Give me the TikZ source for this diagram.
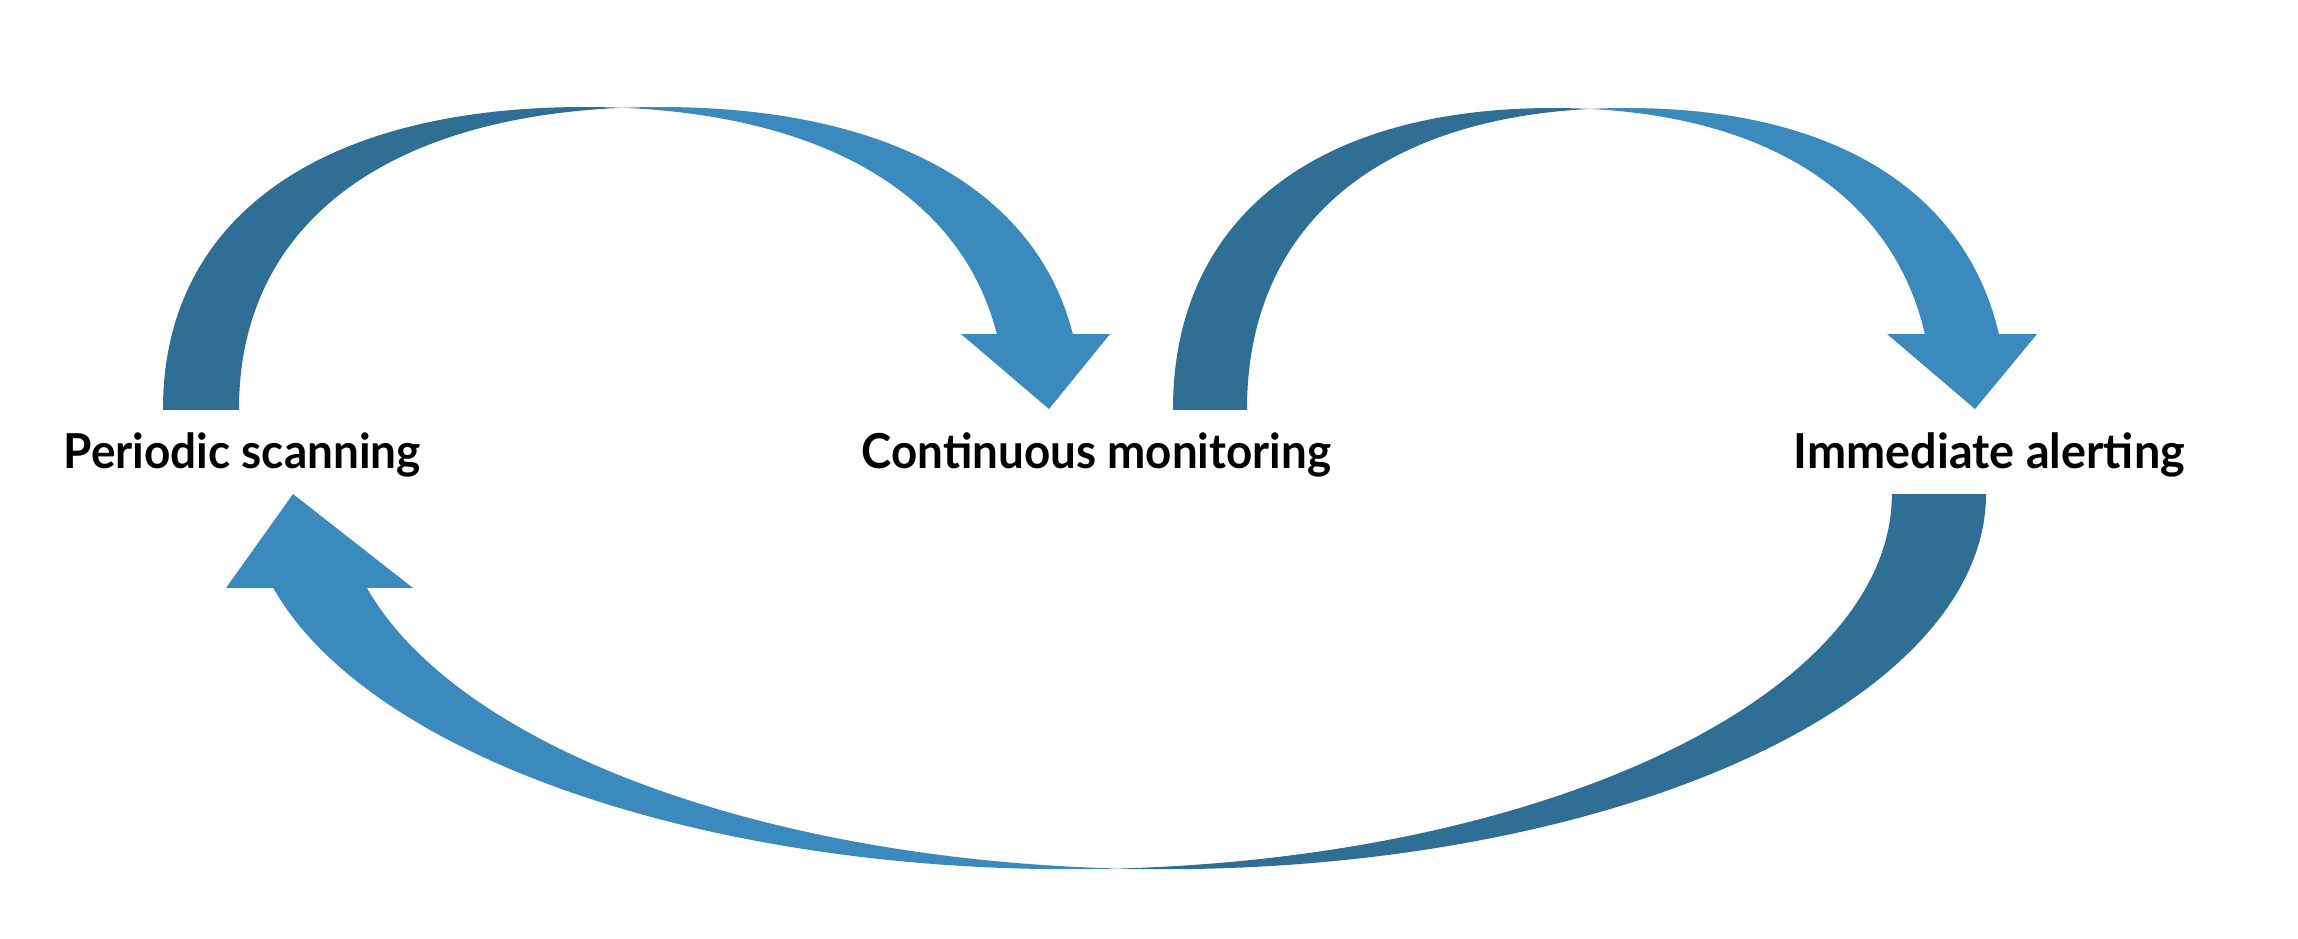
\documentclass[tikz,border=0pt]{standalone}
\usepackage{fontspec}
\setmainfont{Lato}
\usepackage{graphicx}
\definecolor{arrowdark}{RGB}{47,111,150}
\definecolor{arrowlight}{RGB}{59,138,189}
\definecolor{bgwarm}{RGB}{253,251,249}
\definecolor{bgwarmb}{RGB}{250,247,244}
\pgfdeclareradialshading{bgshade}{\pgfpoint{0bp}{0bp}}{color(0bp)=(white); color(44bp)=(white); color(58bp)=(bgwarm); color(71bp)=(bgwarmb)}
\newcommand{\lbl}[2]{\resizebox{#1}{\height}{#2}}
\tikzset{
  label text/.style={inner sep=0pt, anchor=base west, font=\fontsize{13.7pt}{16pt}\selectfont\bfseries, text=black},
  back band/.style={fill=arrowdark, draw=none, even odd rule},
  front band/.style={fill=arrowlight, draw=none, even odd rule},
  head/.style={fill=arrowlight, draw=none}
}
\begin{document}
\begin{tikzpicture}[x=0.01cm, y=0.01cm]
\useasboundingbox (0,0) rectangle (2298,-938);
\shade[shading=bgshade] (0,0) rectangle (2298,-938);

% labels
\node[label text] (ps) at (63,-468) {\lbl{3.57cm}{Periodic scanning}};
\node[label text] (cm) at (861,-468) {\lbl{4.69cm}{Continuous monitoring}};
\node[label text] (ia) at (1793,-468) {\lbl{3.91cm}{Immediate alerting}};

% ---------- arrow 1: Periodic scanning -> Continuous monitoring
\coordinate (a1s) at (163,-409);
\coordinate (a1m) at (622.4,-107);
\coordinate (a1t) at (1049,-409);
\begin{scope}
  \clip (0,-409) rectangle (a1m |- 0,0);
  \fill[back band] (163,-440) -- (a1s) .. controls (163,-218.7) and (318.9,-107) .. (584.4,-107)
      .. controls (849.9,-107) and (1005.8,-218.7) .. (1005.8,-409) -- (1005.8,-440) -- cycle
    (239,-440) -- (239,-409) .. controls (239,-218.7) and (394.9,-107) .. (660.4,-107)
      .. controls (925.9,-107) and (1081.8,-218.7) .. (1081.8,-409) -- (1081.8,-440) -- cycle;
\end{scope}
\begin{scope}
  \clip (a1m |- 0,-337) rectangle (1200,0);
  \fill[front band] (163,-440) -- (a1s) .. controls (163,-218.7) and (318.9,-107) .. (584.4,-107)
      .. controls (849.9,-107) and (1005.8,-218.7) .. (1005.8,-409) -- (1005.8,-440) -- cycle
    (239,-440) -- (239,-409) .. controls (239,-218.7) and (394.9,-107) .. (660.4,-107)
      .. controls (925.9,-107) and (1081.8,-218.7) .. (1081.8,-409) -- (1081.8,-440) -- cycle;
\end{scope}
\fill[head] (961,-334) -- (1110,-334) -- (a1t) -- cycle;

% ---------- arrow 2: Continuous monitoring -> Immediate alerting
\coordinate (a2s) at (1173,-409);
\coordinate (a2m) at (1590,-108);
\coordinate (a2t) at (1975,-409);
\begin{scope}
  \clip (1100,-409) rectangle (a2m |- 0,0);
  \fill[back band] (1173,-440) -- (a2s) .. controls (1173,-219.4) and (1313.6,-108) .. (1553,-108)
      .. controls (1792.4,-108) and (1933,-219.4) .. (1933,-409) -- (1933,-440) -- cycle
    (1247,-440) -- (1247,-409) .. controls (1247,-219.4) and (1387.6,-108) .. (1627,-108)
      .. controls (1866.4,-108) and (2007,-219.4) .. (2007,-409) -- (2007,-440) -- cycle;
\end{scope}
\begin{scope}
  \clip (a2m |- 0,-337) rectangle (2200,0);
  \fill[front band] (1173,-440) -- (a2s) .. controls (1173,-219.4) and (1313.6,-108) .. (1553,-108)
      .. controls (1792.4,-108) and (1933,-219.4) .. (1933,-409) -- (1933,-440) -- cycle
    (1247,-440) -- (1247,-409) .. controls (1247,-219.4) and (1387.6,-108) .. (1627,-108)
      .. controls (1866.4,-108) and (2007,-219.4) .. (2007,-409) -- (2007,-440) -- cycle;
\end{scope}
\fill[head] (1887,-334) -- (2037,-334) -- (a2t) -- cycle;

% ---------- arrow 3: Immediate alerting -> Periodic scanning
\coordinate (a3s) at (1986,-494);
\coordinate (a3m) at (1116.5,-868.4);
\coordinate (a3t) at (293,-494);
\fill[arrowdark] (a3s) arc[start angle=0, end angle=-93.28, x radius=8.225cm, y radius=3.75cm]
  arc[start angle=-86.72, end angle=0, x radius=8.225cm, y radius=3.75cm] -- cycle;
\fill[arrowlight] (a3m) arc[start angle=266.72, end angle=194.517, x radius=8.225cm, y radius=3.75cm]
  -- (413,-588) -- (a3t) -- (226,-588) -- (273.3,-588)
  arc[start angle=194.517, end angle=273.28, x radius=8.225cm, y radius=3.75cm] -- cycle;
\end{tikzpicture}
\end{document}
